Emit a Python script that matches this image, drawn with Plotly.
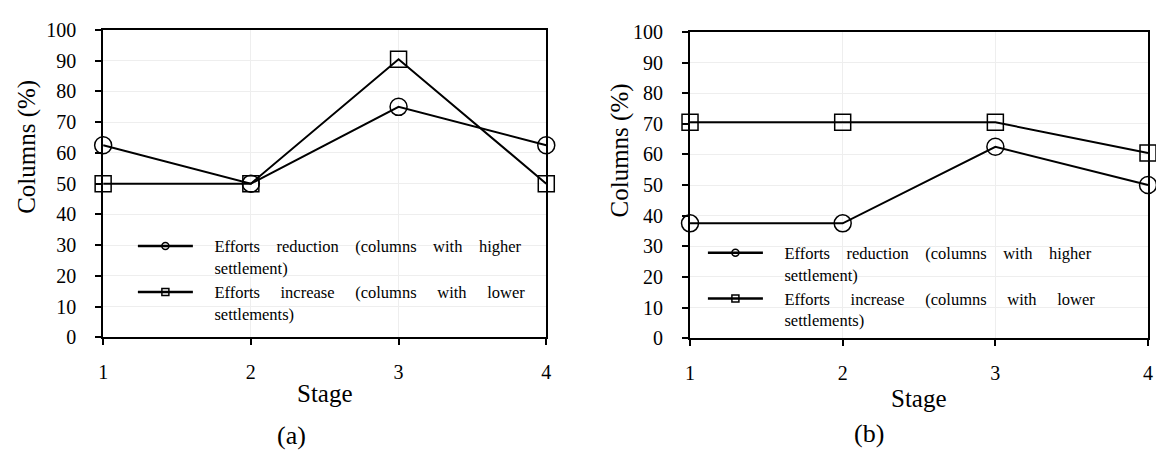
import plotly.graph_objects as go

stages = [1, 2, 3, 4]
a_reduction = [62.5, 50, 75, 62.5]
a_increase = [50, 50, 90.5, 50]
b_reduction = [37.5, 37.5, 62.5, 50]
b_increase = [70.5, 70.5, 70.5, 60.5]

NB = "&nbsp;"
IND = NB * 4
name_red = (IND + "Efforts" + NB * 3 + " reduction" + NB * 3 + " (columns" + NB * 3 + " with" + NB * 3 + " higher"
            + "<br>" + IND + "settlement)")
name_inc = (IND + "Efforts" + NB * 4 + " increase" + NB * 4 + " (columns" + NB * 4 + " with" + NB * 4 + " lower"
            + "<br>" + IND + "settlements)")

FONT = "Liberation Serif, Times New Roman, serif"
W, H = 1156, 451

fig = go.Figure()

def add_panel(xa, ya, red, inc, leg):
    fig.add_trace(go.Scatter(x=stages, y=red, mode="lines+markers", xaxis=xa, yaxis=ya,
                             line=dict(color="black", width=2),
                             marker=dict(symbol="circle-open", size=17, color="black", line=dict(width=1.5)),
                             showlegend=False, cliponaxis=False))
    fig.add_trace(go.Scatter(x=stages, y=inc, mode="lines+markers", xaxis=xa, yaxis=ya,
                             line=dict(color="black", width=2),
                             marker=dict(symbol="square-open", size=16, color="black", line=dict(width=1.5)),
                             showlegend=False, cliponaxis=False))
    fig.add_trace(go.Scatter(x=[None], y=[None], mode="lines+markers", xaxis=xa, yaxis=ya,
                             name=name_red, legend=leg,
                             line=dict(color="black", width=2.5),
                             marker=dict(symbol="circle-open", size=7, color="black", line=dict(width=1.5))))
    fig.add_trace(go.Scatter(x=[None], y=[None], mode="lines+markers", xaxis=xa, yaxis=ya,
                             name=name_inc, legend=leg,
                             line=dict(color="black", width=2.5),
                             marker=dict(symbol="square-open", size=7, color="black", line=dict(width=1.5))))

add_panel("x", "y", a_reduction, a_increase, "legend")
add_panel("x2", "y2", b_reduction, b_increase, "legend2")

axis_common = dict(showline=True, linecolor="black", linewidth=1.8, mirror=True,
                   ticks="outside", ticklen=6, tickcolor="black", tickwidth=1.5,
                   showgrid=True, gridcolor="#eeeeee", gridwidth=1, zeroline=False,
                   tickfont=dict(family=FONT, size=20, color="black"))

leg_common = dict(xanchor="left", yanchor="top", bgcolor="rgba(0,0,0,0)",
                  font=dict(family=FONT, size=16.5, color="black"), valign="top",
                  itemwidth=55, tracegroupgap=0)

fig.update_layout(
    width=W, height=H,
    margin=dict(l=0, r=0, t=0, b=0),
    paper_bgcolor="white", plot_bgcolor="white",
    font=dict(family=FONT, color="black"),
    xaxis=dict(domain=[99/W, 546/W], range=[1, 4], tickvals=stages, anchor="y", ticklabelstandoff=10, **axis_common),
    yaxis=dict(domain=[1-343/H, 1-20/H], range=[0, 100], dtick=10, anchor="x", ticklabelstandoff=15, **axis_common),
    xaxis2=dict(domain=[691/W, 1153/W], range=[1, 4], tickvals=stages, anchor="y2", ticklabelstandoff=10, **axis_common),
    yaxis2=dict(domain=[1-344/H, 1-22/H], range=[0, 100], dtick=10, anchor="x2", ticklabelstandoff=15, **axis_common),
    legend=dict(x=129/W, y=1-229/H, **leg_common),
    legend2=dict(x=704/W, y=1-236/H, **leg_common),
)

ann = []
for xc, yc, txt, rot, sz in [
    (22/W, 1-143/H, "Columns (%)", -90, 25),
    (620/W, 1-147/H, "Columns (%)", -90, 25),
    (323/W, 1-402/H, "Stage", 0, 25),
    (922/W, 1-407/H, "Stage", 0, 25),
    (289/W, 1-446/H, "(a)", 0, 26),
    (872/W, 1-444/H, "(b)", 0, 26),
]:
    ann.append(dict(x=xc, y=yc, xref="paper", yref="paper", text=txt, showarrow=False,
                    textangle=rot, xanchor="center", yanchor="middle",
                    font=dict(family=FONT, size=sz, color="black")))
fig.update_layout(annotations=ann)

fig.write_html("out.html")
